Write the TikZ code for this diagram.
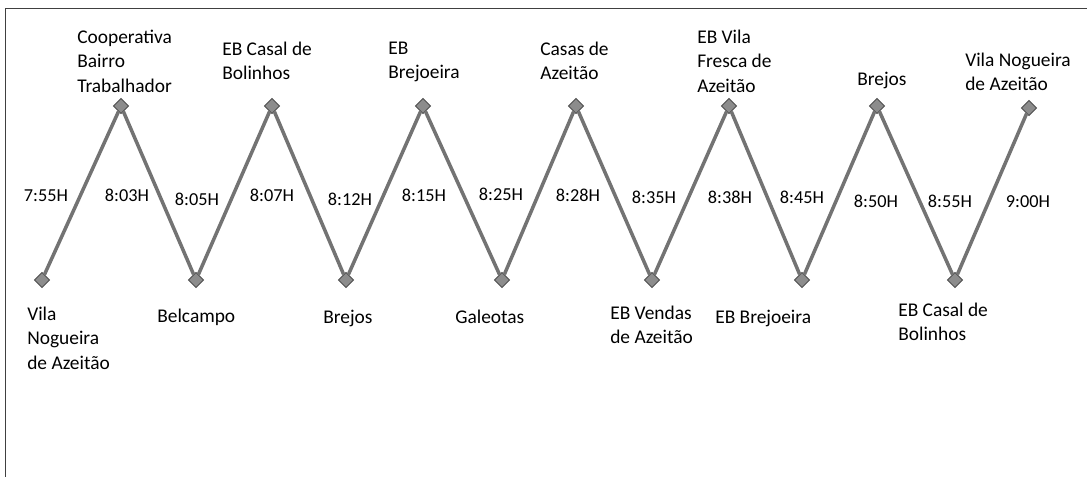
\documentclass[tikz,border=0pt]{standalone}
\usepackage{fontspec}
\setmainfont{Carlito}
\usetikzlibrary{shapes.geometric}
\tikzset{
  frame/.style  = {line width=0.6pt, draw=black!75},
  route/.style  = {line width=2.5pt, draw=black!55},
  stop/.style   = {diamond, draw=black!70, fill=black!45, line width=0.6pt,
                   inner sep=0pt, minimum size=3.8mm},
  lbl/.style    = {anchor=west, align=left, inner sep=0pt,
                   font=\fontsize{13.8}{17.4}\selectfont},
  tlbl/.style   = {inner sep=0pt, font=\fontsize{13}{15}\selectfont},
}

\begin{document}
\begin{tikzpicture}[x=0.025cm, y=-0.025cm]
  \useasboundingbox (0,0) rectangle (1087,477);
  \draw[frame] (5,477) -- (5,8) -- (1087,8);
  % stops (bottom row and top row)
  \node[stop] (b0) at (42,280) {};
  \node[stop] (t0) at (121,106) {};
  \node[stop] (b1) at (196,280) {};
  \node[stop] (t1) at (272,106) {};
  \node[stop] (b2) at (346,280) {};
  \node[stop] (t2) at (423,106) {};
  \node[stop] (b3) at (502,280) {};
  \node[stop] (t3) at (576,106) {};
  \node[stop] (b4) at (652,280) {};
  \node[stop] (t4) at (729,106) {};
  \node[stop] (b5) at (802,280) {};
  \node[stop] (t5) at (877,106) {};
  \node[stop] (b6) at (955,280) {};
  \node[stop] (t6) at (1029,108) {};
  \draw[route] (b0) -- (t0) -- (b1) -- (t1) -- (b2) -- (t2) -- (b3) -- (t3)
    -- (b4) -- (t4) -- (b5) -- (t5) -- (b6) -- (t6);
  % stop names
  \node[lbl] (coop) at (77,61) {Cooperativa\\Bairro\\Trabalhador};
  \node[lbl] (casalA) at (222,61) {EB Casal de\\Bolinhos};
  \node[lbl] (brejoeiraA) at (388,62) {EB\\Brejoeira};
  \node[lbl] (casas) at (540,61) {Casas de\\Azeitão};
  \node[lbl] (fresca) at (697,61) {EB Vila\\Fresca de\\Azeitão};
  \node[lbl] (brejosB) at (857,80) {Brejos};
  \node[lbl] (vilaB) at (965,72) {Vila Nogueira\\de Azeitão};
  \node[lbl] (vilaA) at (27,338) {Vila\\Nogueira\\de Azeitão};
  \node[lbl] (belcampo) at (157,317) {Belcampo};
  \node[lbl] (brejosA) at (323,318) {Brejos};
  \node[lbl] (galeotas) at (455,317) {Galeotas};
  \node[lbl] (vendas) at (610,325) {EB Vendas\\de Azeitão};
  \node[lbl] (brejoeiraB) at (715,318) {EB Brejoeira};
  \node[lbl] (casalB) at (898,322) {EB Casal de\\Bolinhos};
  % times
  \node[tlbl] (h755) at (46,196) {7:55H};
  \node[tlbl] (h803) at (127,195) {8:03H};
  \node[tlbl] (h805) at (197,199) {8:05H};
  \node[tlbl] (h807) at (272,195) {8:07H};
  \node[tlbl] (h812) at (350,199) {8:12H};
  \node[tlbl] (h815) at (424,195) {8:15H};
  \node[tlbl] (h825) at (501,194) {8:25H};
  \node[tlbl] (h828) at (578,195) {8:28H};
  \node[tlbl] (h835) at (654,197) {8:35H};
  \node[tlbl] (h838) at (730,197) {8:38H};
  \node[tlbl] (h845) at (802,197) {8:45H};
  \node[tlbl] (h850) at (876,201) {8:50H};
  \node[tlbl] (h855) at (950,201) {8:55H};
  \node[tlbl] (h900) at (1028,202) {9:00H};
\end{tikzpicture}
\end{document}
